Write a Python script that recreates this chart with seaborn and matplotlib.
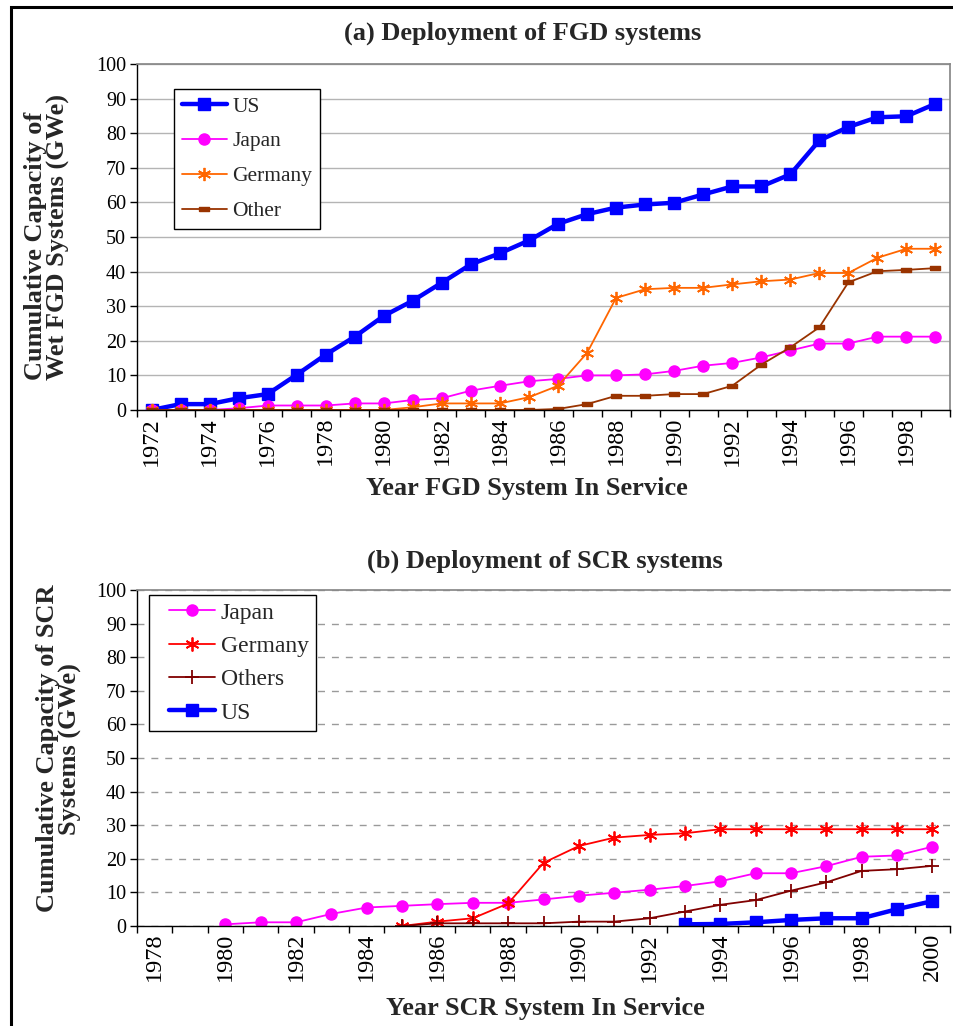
import numpy as np
import pandas as pd
import matplotlib
matplotlib.use("Agg")
import matplotlib.pyplot as plt
import seaborn as sns
from matplotlib.ticker import FixedLocator, MultipleLocator
from matplotlib.patches import Rectangle
from matplotlib.legend_handler import HandlerLine2D

# ---------------- data ----------------
fgd_years = list(range(1972, 2000))
fgd_us = [0, 1.7, 1.7, 3.4, 4.6, 10.2, 16.0, 21.2, 27.2, 31.6, 36.8, 42.1, 45.3, 49.0,
          53.8, 56.6, 58.5, 59.4, 59.9, 62.3, 64.6, 64.6, 68.1, 77.9, 81.8, 84.6, 84.9, 88.5]
fgd_japan = [0, 0, 0, 0.5, 1.3, 1.3, 1.3, 1.9, 1.9, 2.9, 3.4, 5.6, 7.0, 8.3,
             9.0, 10.0, 10.0, 10.3, 11.3, 12.8, 13.6, 15.2, 17.2, 19.2, 19.2, 21.2, 21.2, 21.2]
fgd_germany = [0, 0, 0, 0, 0, 0, 0, 0, 0, 0.8, 1.9, 1.9, 1.9, 3.7,
               7.0, 16.5, 32.4, 34.9, 35.3, 35.3, 36.3, 37.2, 37.7, 39.6, 39.6, 44.0, 46.6, 46.6]
fgd_other = [0, 0, 0, 0, 0, 0, 0, 0, 0, 0, 0, 0, 0, 0,
             0.3, 1.7, 4.1, 4.1, 4.6, 4.6, 7.0, 13.1, 18.1, 23.9, 36.9, 40.1, 40.5, 41.0]

nan = np.nan
scr_years = list(range(1978, 2001))
scr_japan = [nan, nan, 0.5, 1.1, 1.1, 3.6, 5.5, 6.0, 6.5, 6.9, 6.9, 7.9, 9.0, 9.9,
             10.8, 11.9, 13.3, 15.7, 15.7, 17.8, 20.6, 21.0, 23.6]
scr_germany = [nan, nan, nan, nan, nan, nan, nan, 0.0, 1.3, 2.3, 6.7, 18.8, 23.8, 26.3,
               27.1, 27.6, 28.8, 28.8, 28.8, 28.8, 28.8, 28.8, 28.8]
scr_others = [nan, nan, nan, nan, nan, nan, nan, 0.0, 0.8, 0.8, 0.8, 0.8, 1.3, 1.3,
              2.3, 4.3, 6.3, 7.7, 10.5, 13.0, 16.4, 16.9, 17.9]
scr_us = [nan] * 15 + [0.5, 0.6, 1.1, 1.8, 2.3, 2.3, 5.0, 7.4]

# ---------------- style ----------------
sns.set_theme(style="white")
plt.rcParams['font.family'] = ['Liberation Serif', 'DejaVu Serif']
plt.rcParams['axes.unicode_minus'] = False

W, H = 954, 1026
fig = plt.figure(figsize=(W / 100, H / 100), dpi=100)
fig.patch.set_facecolor('white')


def ax_rect(left, top, right, bottom):
    return [left / W, 1 - bottom / H, (right - left) / W, (bottom - top) / H]


ax1 = fig.add_axes(ax_rect(137, 64, 950, 410))
ax2 = fig.add_axes(ax_rect(137, 590, 950, 926))

rect_marker = [(-1.2, -0.45), (1.2, -0.45), (1.2, 0.45), (-1.2, 0.45), (-1.2, -0.45)]
star6 = (6, 2, 0)

YTICK_FS = 14.5
XTICK_FS = 17.5
LAB_FS = 19


def draw(ax, x, y, label, color, marker, lw, ms, mew=1.0, mfc=None):
    df = pd.DataFrame({'x': x, 'y': y}).dropna()
    sns.lineplot(data=df, x='x', y='y', ax=ax, color=color, linewidth=lw,
                 marker=marker, markersize=ms, markeredgecolor=color,
                 markerfacecolor=color if mfc is None else mfc,
                 markeredgewidth=mew, label=label, estimator=None, legend=False)
    return ax.get_lines()[-1]


# ---- panel (a) ----
h = []
h.append(draw(ax1, fgd_years, fgd_us, 'US', '#0000FF', 's', 3.2, 8.5))
h.append(draw(ax1, fgd_years, fgd_japan, 'Japan', '#FF00FF', 'o', 1.3, 8))
h.append(draw(ax1, fgd_years, fgd_germany, 'Germany', '#FF6600', star6, 1.3, 9.5, mew=1.3))
h.append(draw(ax1, fgd_years, fgd_other, 'Other', '#993300', rect_marker, 1.3, 7))
leg1 = ax1.legend(handles=h, labels=['US', 'Japan', 'Germany', 'Other'],
                  loc='upper left', bbox_to_anchor=(0.0455, 0.928), fontsize=15.5,
                  frameon=True, fancybox=False, edgecolor='black', framealpha=1,
                  handlelength=2.12, labelspacing=0.69, borderpad=0.35, handletextpad=0.23,
                  borderaxespad=0)
leg1.get_frame().set_linewidth(1.0)

ax1.set_xlim(1971.5, 1999.5)

# ---- panel (b) ----
h2 = []
h2.append(draw(ax2, scr_years, scr_japan, 'Japan', '#FF00FF', 'o', 1.3, 8))
h2.append(draw(ax2, scr_years, scr_germany, 'Germany', '#FF0000', star6, 1.3, 10, mew=1.3))
h2.append(draw(ax2, scr_years, scr_others, 'Others', '#800000', '+', 1.3, 10, mew=1.3))
h2.append(draw(ax2, scr_years, scr_us, 'US', '#0000FF', 's', 3.2, 8.5))
hm = {ln: HandlerLine2D(xpad=0.54) for ln in h2}
leg2 = ax2.legend(handles=h2, labels=['Japan', 'Germany', 'Others', 'US'],
                  loc='upper left', bbox_to_anchor=(0.0148, 0.985), fontsize=17,
                  frameon=True, fancybox=False, edgecolor='black', framealpha=1,
                  handlelength=2.49, labelspacing=0.5, borderpad=0.3, handletextpad=0.25,
                  borderaxespad=0, handler_map=hm)
leg2.get_frame().set_linewidth(1.0)
ax2.set_xlim(1977.5, 2000.5)

# ---- common axis formatting ----
for ax, years, grid_ls, grid_col in [(ax1, fgd_years, '-', '#b4b4b4'),
                                     (ax2, scr_years, (0, (5, 5)), '#9a9a9a')]:
    ax.set_ylim(0, 100)
    ax.yaxis.set_major_locator(MultipleLocator(10))
    ax.xaxis.set_major_locator(FixedLocator(years[::2]))
    ax.xaxis.set_minor_locator(FixedLocator(np.arange(years[0] - 0.5, years[-1] + 1, 1)))
    ax.set_xticklabels([str(y) for y in years[::2]], rotation=90)
    ax.tick_params(axis='x', which='major', length=0, pad=5, labelsize=XTICK_FS)
    ax.tick_params(axis='x', which='minor', length=5, width=1, color='black', direction='out',
                   bottom=True)
    ax.tick_params(axis='y', which='major', length=5, width=1, color='black', direction='out',
                   left=True, labelsize=YTICK_FS, pad=3)
    ax.yaxis.grid(True, color=grid_col, linewidth=1.0, linestyle=grid_ls)
    ax.xaxis.grid(False)
    ax.set_axisbelow(True)
    for s in ['left', 'bottom']:
        ax.spines[s].set_color('black')
        ax.spines[s].set_linewidth(1.0)
    ax.set_xlabel('')
    for lab in ax.get_xticklabels() + ax.get_yticklabels():
        lab.set_color('black')

ax1.spines['top'].set_color('#888888')
ax1.spines['right'].set_color('#888888')
ax2.spines['top'].set_color('#888888')
ax2.spines['right'].set_visible(False)

# labels
ax1.set_ylabel('Cumulative Capacity of\nWet FGD Systems (GWe)', fontsize=LAB_FS,
               fontweight='bold', linespacing=1.0, va='center', ha='center',
               multialignment='left')
ax1.yaxis.set_label_coords(-0.111, 0.501)
ax2.set_ylabel('Cumulative Capacity of SCR\nSystems (GWe)', fontsize=LAB_FS,
               fontweight='bold', linespacing=1.0, va='center', ha='center',
               multialignment='center')
ax2.yaxis.set_label_coords(-0.096, 0.528)

fig.text(523 / W, 1 - 33 / H, '(a) Deployment of FGD systems', ha='center', va='center',
         fontsize=LAB_FS, fontweight='bold')
fig.text(527 / W, 1 - 488 / H, 'Year FGD System In Service', ha='center', va='center',
         fontsize=LAB_FS, fontweight='bold')
fig.text(545 / W, 1 - 561 / H, '(b) Deployment of SCR systems', ha='center', va='center',
         fontsize=LAB_FS, fontweight='bold')
fig.text(545 / W, 1 - 1008 / H, 'Year SCR System In Service', ha='center', va='center',
         fontsize=LAB_FS, fontweight='bold')

# outer frame (left and top edges visible)
fig.add_artist(Rectangle((11 / W, -0.5), 2.0, 0.5 + (1 - 6.5 / H), transform=fig.transFigure,
                         fill=False, edgecolor='black', linewidth=2.2, clip_on=False))

fig.savefig('out.png', dpi=100, facecolor='white')
